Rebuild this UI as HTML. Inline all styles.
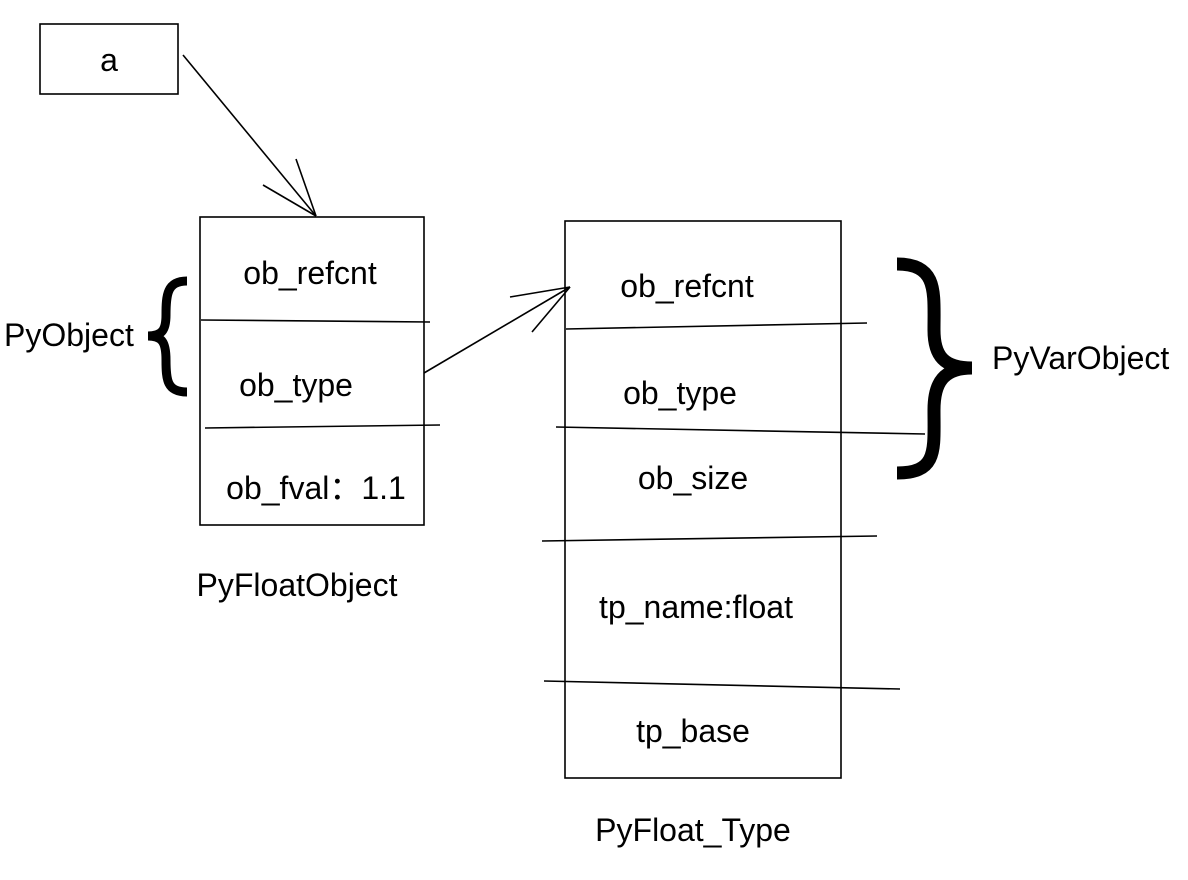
<!DOCTYPE html>
<html><head><meta charset="utf-8"><style>
html,body{margin:0;padding:0;background:#fff;}
svg{display:block;}
text{font-family:"Liberation Sans","Noto Sans CJK SC",sans-serif;font-size:32px;fill:#000;}
</style></head><body>
<svg width="1188" height="880" viewBox="0 0 1188 880" xmlns="http://www.w3.org/2000/svg">
<g fill="none" stroke="#000" stroke-width="1.6">
<rect x="40" y="24" width="138" height="70"/>
<line x1="183" y1="55" x2="316" y2="216"/>
<line x1="316" y1="216" x2="263" y2="185"/>
<line x1="316" y1="216" x2="296" y2="159"/>
<rect x="200" y="217" width="224" height="308"/>
<line x1="201" y1="320" x2="430" y2="322"/>
<line x1="205" y1="428" x2="440" y2="425"/>
<line x1="424" y1="373" x2="570" y2="287"/>
<line x1="570" y1="287" x2="510" y2="297"/>
<line x1="570" y1="287" x2="532" y2="332"/>
<rect x="565" y="221" width="276" height="557"/>
<line x1="566" y1="329" x2="867" y2="323"/>
<line x1="556" y1="427" x2="925" y2="434"/>
<line x1="542" y1="541" x2="877" y2="536"/>
<line x1="544" y1="681" x2="900" y2="689"/>
</g>
<path d="M187,281 C167,281 166,295 166,315 C166,330 162,336 148,336 C162,336 166,342 166,360 C166,380 167,392 187,392" fill="none" stroke="#000" stroke-width="9"/>
<path d="M897,264 C938,264 934,292 934,330 C934,356 944,368 972,368 C944,368 934,382 934,410 C934,450 938,473 897,473" fill="none" stroke="#000" stroke-width="13"/>
<text x="109" y="71" text-anchor="middle">a</text>
<text x="310" y="284" text-anchor="middle">ob_refcnt</text>
<text x="296" y="396" text-anchor="middle">ob_type</text>
<text x="316" y="499" text-anchor="middle">ob_fval：1.1</text>
<text x="297" y="596" text-anchor="middle">PyFloatObject</text>
<text x="4" y="346">PyObject</text>
<text x="687" y="297" text-anchor="middle">ob_refcnt</text>
<text x="680" y="404" text-anchor="middle">ob_type</text>
<text x="693" y="489" text-anchor="middle">ob_size</text>
<text x="696" y="618" text-anchor="middle">tp_name:float</text>
<text x="693" y="742" text-anchor="middle">tp_base</text>
<text x="693" y="841" text-anchor="middle">PyFloat_Type</text>
<text x="992" y="369">PyVarObject</text>
</svg>
</body></html>
